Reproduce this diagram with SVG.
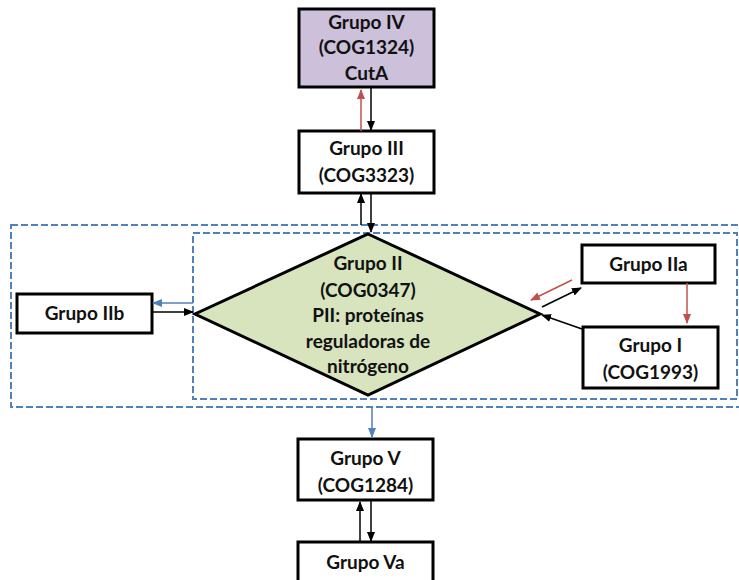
<svg xmlns="http://www.w3.org/2000/svg" width="739" height="580" viewBox="0 0 739 580">
<defs>
<style>
.box{fill:#fff;stroke:#000;stroke-width:3}
.t{font-family:Lato,"Liberation Sans",sans-serif;font-weight:bold;font-size:19px;fill:#111;text-anchor:middle}
.dash{fill:none;stroke:#4F81BD;stroke-width:2;stroke-dasharray:7,3}
.k{stroke:#000;stroke-width:1.5;fill:none;marker-end:url(#mk)}
.r{stroke:#C0504D;stroke-width:1.5;fill:none;marker-end:url(#mr)}
.b{stroke:#4F81BD;stroke-width:1.5;fill:none;marker-end:url(#mb)}
</style>
<marker id="mk" markerWidth="10" markerHeight="10" refX="9" refY="5" orient="auto" markerUnits="userSpaceOnUse"><path d="M0,1 L10,5 L0,9 z" fill="#000"/></marker>
<marker id="mr" markerWidth="10" markerHeight="10" refX="9" refY="5" orient="auto" markerUnits="userSpaceOnUse"><path d="M0,1 L10,5 L0,9 z" fill="#C0504D"/></marker>
<marker id="mb" markerWidth="10" markerHeight="10" refX="9" refY="5" orient="auto" markerUnits="userSpaceOnUse"><path d="M0,1 L10,5 L0,9 z" fill="#4F81BD"/></marker>
</defs>
<rect width="739" height="580" fill="#fff"/>
<g id="groups">
<rect class="dash" x="11" y="225" width="740" height="182"/>
<rect class="dash" x="193" y="233" width="544" height="166"/>
</g>
<g id="nodeIV">
<rect x="299" y="9" width="135" height="78" fill="#CCC0DA" stroke="#000" stroke-width="3"/>
<text class="t" x="366.5" y="29">Grupo IV</text>
<text class="t" x="366.5" y="54">(COG1324)</text>
<text class="t" x="366.5" y="80">CutA</text>
</g>
<g id="nodeIII">
<rect class="box" x="299" y="131" width="135" height="62"/>
<text class="t" x="366.5" y="155">Grupo III</text>
<text class="t" x="366.5" y="182">(COG3323)</text>
</g>
<g id="nodeII">
<polygon points="368,234 540,314 368,395 195,314" fill="#D7E4BD" stroke="#000" stroke-width="3"/>
<text class="t" x="368" y="270">Grupo II</text>
<text class="t" x="368" y="297">(COG0347)</text>
<text class="t" x="368" y="322">PII: proteínas</text>
<text class="t" x="368" y="348">reguladoras de</text>
<text class="t" x="368" y="373">nitrógeno</text>
</g>
<g id="nodeIIb">
<rect class="box" x="17" y="294" width="135" height="39"/>
<text class="t" x="84.5" y="320">Grupo IIb</text>
</g>
<g id="nodeIIa">
<rect class="box" x="582" y="245" width="133" height="38"/>
<text class="t" x="648.5" y="271">Grupo IIa</text>
</g>
<g id="nodeI">
<rect class="box" x="583" y="327" width="135" height="61"/>
<text class="t" x="650.5" y="352">Grupo I</text>
<text class="t" x="650.5" y="379">(COG1993)</text>
</g>
<g id="nodeV">
<rect class="box" x="298" y="439" width="135" height="61"/>
<text class="t" x="365.5" y="465">Grupo V</text>
<text class="t" x="365.5" y="492">(COG1284)</text>
</g>
<g id="nodeVa">
<rect class="box" x="298" y="542" width="135" height="50"/>
<text class="t" x="365.5" y="569">Grupo Va</text>
</g>
<g id="connectors">
<line class="r" x1="361" y1="131" x2="361" y2="90"/>
<line class="k" x1="371" y1="88" x2="371" y2="130"/>
<line class="k" x1="361" y1="225" x2="361" y2="194"/>
<line class="k" x1="371" y1="193" x2="371" y2="232"/>
<line class="b" x1="193" y1="303" x2="153" y2="303"/>
<line class="k" x1="152" y1="312" x2="193" y2="312"/>
<line class="r" x1="572" y1="280" x2="531" y2="300"/>
<line class="k" x1="542" y1="307" x2="581" y2="288"/>
<line class="k" x1="582" y1="329" x2="542" y2="315"/>
<line class="r" x1="687" y1="283" x2="687" y2="323"/>
<line class="b" x1="372" y1="407" x2="372" y2="437"/>
<line class="k" x1="360" y1="542" x2="360" y2="502"/>
<line class="k" x1="371" y1="500" x2="371" y2="541"/>
</g>
</svg>
